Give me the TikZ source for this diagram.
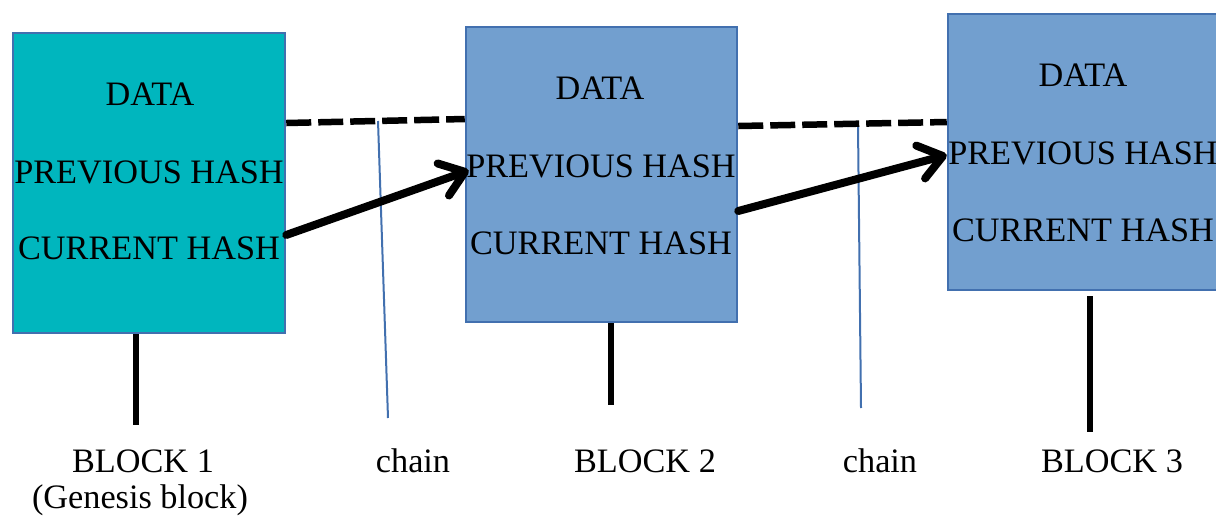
\documentclass[tikz,border=0pt]{standalone}
\usepackage{fontspec}
\setmainfont{Liberation Serif}
\usetikzlibrary{arrows.meta,calc}
\definecolor{tealfill}{HTML}{00B6BE}
\definecolor{bluefill}{HTML}{729FCF}
\definecolor{edgeblue}{HTML}{4270AF}
\tikzset{
  blockbox/.style={draw=edgeblue,line width=0.05cm,minimum width=#1*0.02cm,inner sep=0pt},
  boxtext/.style={font=\fontsize{19.5}{23}\selectfont,inner sep=0pt},
  label/.style={font=\fontsize{19.5}{23}\selectfont,inner sep=0pt,anchor=base},
  stem/.style={line width=0.12cm},
  chainline/.style={draw=edgeblue,line width=0.04cm},
  dashlink/.style={line width=0.13cm,dash pattern=on 0.5cm off 0.14cm},
  hashlink/.style={line width=0.16cm,line cap=round,-{Straight Barb[length=0.46cm,width=0.68cm,round]}}
}
\begin{document}
\begin{tikzpicture}[x=0.02cm,y=-0.02cm]
\useasboundingbox (0,0) rectangle (1216,517);
\clip (0,0) rectangle (1216,517);
% blocks
\node[blockbox=272,fill=tealfill,minimum height=0.02cm*300] (b1) at (149,183) {};
\node[blockbox=271,fill=bluefill,minimum height=0.02cm*295] (b2) at (601.5,174.5) {};
\node[blockbox=274,fill=bluefill,minimum height=0.02cm*276] (b3) at (1085,152) {};
% texts
\node[boxtext] (b1d) at (150,94) {DATA};
\node[boxtext] (b1p) at (149,172) {PREVIOUS HASH};
\node[boxtext] (b1c) at (149,248) {CURRENT HASH};
\node[boxtext] (b2d) at (600,88) {DATA};
\node[boxtext] (b2p) at (601,166) {PREVIOUS HASH};
\node[boxtext] (b2c) at (601,243) {CURRENT HASH};
\node[boxtext] (b3d) at (1083,75) {DATA};
\node[boxtext] (b3p) at (1083,153) {PREVIOUS HASH};
\node[boxtext] (b3c) at (1083,230) {CURRENT HASH};
% bottom labels
\node[label] (l1) at (143,472) {BLOCK 1};
\node[label] (l1g) at (140,508) {(Genesis block)};
\node[label] (ch1) at (413,472) {chain};
\node[label] (l2) at (645,472) {BLOCK 2};
\node[label] (ch2) at (880,472) {chain};
\node[label] (l3) at (1112,472) {BLOCK 3};
% stems
\coordinate (s1) at (136,425);
\coordinate (s2) at (611,405);
\coordinate (s3) at (1090,432);
\draw[stem] (s1 |- b1.south) -- (s1);
\draw[stem] (s2 |- b2.south) -- (s2);
\draw[stem] ([yshift=-0.1cm]s3 |- b3.south) -- (s3);
% chain lines
\coordinate (c1t) at (378,121);
\coordinate (c1b) at (388,418);
\coordinate (c2t) at (858,126);
\coordinate (c2b) at (861,408);
\draw[chainline] (c1t) -- (c1b);
\draw[chainline] (c2t) -- (c2b);
% dashed links
\draw[dashlink] ([yshift=1.2cm]b1.east) -- ([yshift=1.11cm]b2.west);
\draw[dashlink] ([yshift=0.97cm]b2.east) -- ([yshift=0.6cm]b3.west);
% hash arrows
\draw[hashlink] ([yshift=-1.04cm]b1.east) -- ([yshift=0.08cm,xshift=0.08cm]b2.west);
\draw[hashlink] ([yshift=-0.73cm]b2.east) -- ([yshift=-0.06cm]b3.west);
\end{tikzpicture}
\end{document}
